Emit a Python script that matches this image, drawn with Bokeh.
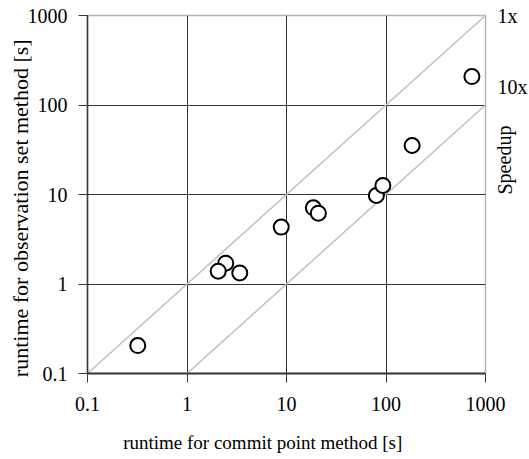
from bokeh.plotting import figure
from bokeh.models import Range1d, FixedTicker, NumeralTickFormatter, LogAxis
from bokeh.embed import file_html
from bokeh.resources import INLINE

# data
commit_runtime = [0.32, 2.45, 2.06, 3.39, 8.85, 18.6, 20.9, 80, 93, 183, 730]
obs_runtime = [0.205, 1.71, 1.39, 1.33, 4.32, 7.1, 6.18, 9.75, 12.6, 35.3, 208]
speedups = [1, 10]
speedup_labels = ["1x", "10x"]
speedup_label_pos = [1000, 157]
tick_values = [0.1, 1, 10, 100, 1000]
grid_values = [1, 10, 100]
x_title = "runtime for commit point method [s]"
y_title = "runtime for observation set method [s]"
side_title = "Speedup"

FONT = "Liberation Serif"
FS = "20px"
DARK = "#3a3a3a"
LIGHT = "#c0c0c0"
NBSP = "\u00a0"

p = figure(width=529, height=459, x_axis_type="log", y_axis_type="log",
           x_range=Range1d(0.1, 1000), y_range=Range1d(0.1, 1000),
           output_backend="svg", toolbar_location=None,
           min_border_left=87, min_border_right=42, min_border_top=15,
           min_border_bottom=86)
p.background_fill_color = "white"
p.border_fill_color = "white"
p.outline_line_color = "#b4b4b4"
p.outline_line_width = 1.5


def style_text(ax, size=FS):
    ax.major_label_text_font = FONT
    ax.major_label_text_font_size = FS
    ax.major_label_text_color = "black"
    ax.axis_label_text_font = FONT
    ax.axis_label_text_font_size = size
    ax.axis_label_text_font_style = "normal"
    ax.axis_label_text_color = "black"


for ax in (p.xaxis[0], p.yaxis[0]):
    ax.ticker = FixedTicker(ticks=tick_values, minor_ticks=[])
    ax.formatter = NumeralTickFormatter(format="0.[0]")
    style_text(ax)
    ax.axis_line_color = DARK
    ax.major_tick_line_color = DARK
    ax.major_tick_out = 9
    ax.major_tick_in = 0
    ax.minor_tick_line_color = None

p.xaxis.axis_line_width = 2
p.yaxis.axis_line_width = 1.5
p.xaxis.major_label_standoff = 14
p.yaxis.major_label_standoff = 11

# axis titles; trailing no-break spaces shift the visible text off the
# frame centre, as in the reference
p.yaxis.axis_label = y_title + NBSP * 5
p.yaxis.axis_label_text_font_size = "22px"
p.yaxis.axis_label_standoff = -8
p.xaxis.axis_label = x_title + NBSP * 10
p.xaxis.axis_label_text_font_size = "19px"
p.xaxis.axis_label_standoff = 18

# right side: speedup labels
ra = LogAxis(ticker=FixedTicker(ticks=speedup_label_pos, minor_ticks=[]),
             major_label_overrides=dict(zip(speedup_label_pos, speedup_labels)),
             bounds=(0.58, 1000), axis_label=side_title,
             axis_line_color=None, major_tick_line_color=None,
             minor_tick_line_color=None, major_label_standoff=6,
             axis_label_standoff=-26)
style_text(ra)
ra.axis_label_text_line_height = 0.8
try:
    ra.axis_label_orientation = 1.5708
except Exception:
    pass
p.add_layout(ra, "right")

p.xgrid.ticker = FixedTicker(ticks=grid_values, minor_ticks=[])
p.ygrid.ticker = FixedTicker(ticks=grid_values, minor_ticks=[])
p.grid.grid_line_color = "#333333"
p.grid.grid_line_width = 1

# speedup reference lines
for s in speedups:
    xs = [0.1 * s, 1000]
    ys = [x / s for x in xs]
    p.line(xs, ys, line_color=LIGHT, line_width=1.5)

p.scatter(commit_runtime, obs_runtime, marker="circle", size=15,
          fill_color="white", line_color="black", line_width=2)

open("out.html", "w").write(file_html(p, INLINE))
